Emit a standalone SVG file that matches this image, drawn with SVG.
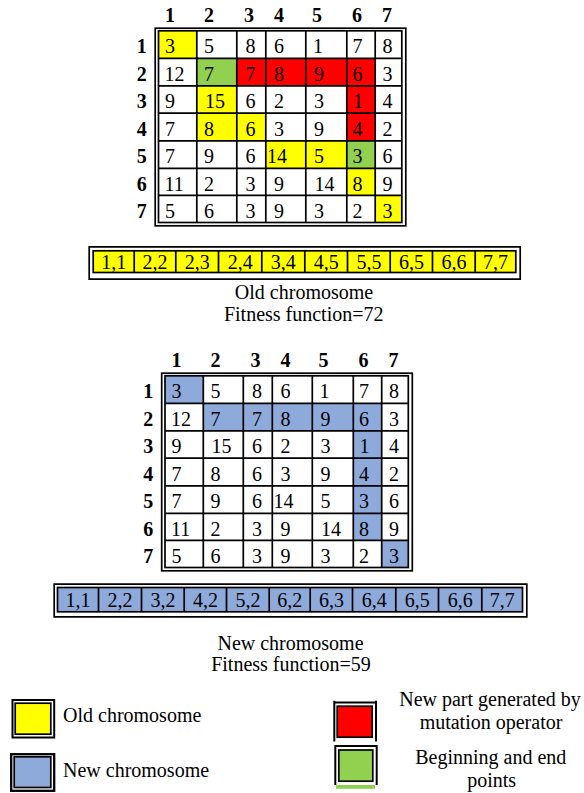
<svg xmlns="http://www.w3.org/2000/svg" width="584" height="793" viewBox="0 0 584 793">
<style>
text{font-family:"Liberation Serif","Times New Roman",serif;font-size:20px;fill:#000}
.b{font-weight:bold}
.m{text-anchor:middle}
.ln{fill:none;stroke:#000;stroke-width:1.7}
.ol{fill:none;stroke:#000;stroke-width:2}
.y{fill:#FFFF00}
.r{fill:#FF0000}
.g{fill:#92D050}
.u{fill:#8EAADB}
</style>
<rect width="584" height="793" fill="#fff"/>

<!-- OLD MATRIX -->
<g id="old-matrix">
<rect class="y" x="158.5" y="30.8" width="38.3" height="27.6"/>
<rect class="y" x="196.8" y="85.8" width="40" height="55"/>
<rect class="y" x="236.8" y="113.2" width="29" height="27.6"/>
<rect class="y" x="265.8" y="140.8" width="81" height="27.6"/>
<rect class="y" x="346.8" y="168.4" width="28.4" height="27"/>
<rect class="y" x="375.2" y="195.4" width="26.6" height="27.1"/>
<rect class="g" x="196.8" y="58.4" width="40" height="27.4"/>
<rect class="g" x="346.8" y="140.8" width="28.4" height="27.6"/>
<rect class="r" x="236.8" y="58.4" width="138.4" height="27.4"/>
<rect class="r" x="346.8" y="85.8" width="28.4" height="55"/>
<rect class="ln" x="155.2" y="28.2" width="250.6" height="197.6"/>
<rect class="ln" x="158.5" y="30.8" width="243.3" height="191.7"/>
<path class="ln" d="M196.8 30.8V222.5M236.8 30.8V222.5M265.8 30.8V222.5M305.8 30.8V222.5M346.8 30.8V222.5M375.2 30.8V222.5M158.5 58.4H401.8M158.5 85.8H401.8M158.5 113.2H401.8M158.5 140.8H401.8M158.5 168.4H401.8M158.5 195.4H401.8"/>
<text class="b" x="165" y="21.7">1</text><text class="b" x="204" y="21.7">2</text><text class="b" x="244" y="21.7">3</text><text class="b" x="274" y="21.7">4</text><text class="b" x="312" y="21.7">5</text><text class="b" x="352" y="21.7">6</text><text class="b" x="382" y="21.7">7</text>
<text class="b m" x="141.7" y="53.3">1</text><text class="b m" x="141.7" y="80.9">2</text><text class="b m" x="141.7" y="108.3">3</text><text class="b m" x="141.7" y="135.7">4</text><text class="b m" x="141.7" y="163.3">5</text><text class="b m" x="141.7" y="190.9">6</text><text class="b m" x="141.7" y="217.9">7</text>
<text x="165" y="53.3">3</text><text x="204" y="53.3">5</text><text x="245.5" y="53.3">8</text><text x="274" y="53.3">6</text><text x="313" y="53.3">1</text><text x="352.5" y="53.3">7</text><text x="382.5" y="53.3">8</text>
<text x="164.5" y="80.9">12</text><text x="204" y="80.9">7</text><text x="245.5" y="80.9">7</text><text x="274" y="80.9">8</text><text x="314" y="80.9">9</text><text x="352.5" y="80.9">6</text><text x="382.5" y="80.9">3</text>
<text x="165" y="108.3">9</text><text x="205" y="108.3">15</text><text x="245.5" y="108.3">6</text><text x="274" y="108.3">2</text><text x="314" y="108.3">3</text><text x="353" y="108.3">1</text><text x="382.5" y="108.3">4</text>
<text x="165" y="135.7">7</text><text x="204" y="135.7">8</text><text x="245.5" y="135.7">6</text><text x="274" y="135.7">3</text><text x="314" y="135.7">9</text><text x="352.5" y="135.7">4</text><text x="382.5" y="135.7">2</text>
<text x="165" y="163.3">7</text><text x="204" y="163.3">9</text><text x="245.5" y="163.3">6</text><text x="267" y="163.3">14</text><text x="314" y="163.3">5</text><text x="352.5" y="163.3">3</text><text x="382.5" y="163.3">6</text>
<text x="164.5" y="190.9">11</text><text x="204" y="190.9">2</text><text x="245.5" y="190.9">3</text><text x="274" y="190.9">9</text><text x="314.5" y="190.9">14</text><text x="352.5" y="190.9">8</text><text x="382.5" y="190.9">9</text>
<text x="165" y="217.9">5</text><text x="204" y="217.9">6</text><text x="245.5" y="217.9">3</text><text x="274" y="217.9">9</text><text x="314" y="217.9">3</text><text x="352.5" y="217.9">2</text><text x="382.5" y="217.9">3</text>
</g>

<!-- OLD CHROMOSOME BAR -->
<g id="old-chromosome">
<rect class="y" x="93.2" y="250.8" width="422.6" height="21.7"/>
<path class="ln" d="M89.2 246.8H520.2V279.2H89.2Z"/>
<rect class="ln" x="93.2" y="250.8" width="422.6" height="21.7"/>
<path class="ln" d="M134.2 250.8V272.5M175.8 250.8V272.5M218.5 250.8V272.5M261.8 250.8V272.5M304.8 250.8V272.5M347.5 250.8V272.5M390.2 250.8V272.5M432.5 250.8V272.5M475.2 250.8V272.5"/>
<text class="m" x="113.7" y="269.3">1,1</text><text class="m" x="155" y="269.3">2,2</text><text class="m" x="197.2" y="269.3">2,3</text><text class="m" x="240.2" y="269.3">2,4</text><text class="m" x="283.3" y="269.3">3,4</text><text class="m" x="326.2" y="269.3">4,5</text><text class="m" x="368.9" y="269.3">5,5</text><text class="m" x="411.4" y="269.3">6,5</text><text class="m" x="453.9" y="269.3">6,6</text><text class="m" x="495.5" y="269.3">7,7</text>
<text class="m" x="304" y="299.3">Old chromosome</text>
<text class="m" x="303.7" y="321">Fitness function=72</text>
</g>

<!-- NEW MATRIX -->
<g id="new-matrix" transform="translate(6.5 345)">
<rect class="u" x="158.5" y="30.8" width="38.3" height="27.6"/>
<rect class="u" x="196.8" y="58.4" width="178.4" height="27.4"/>
<rect class="u" x="346.8" y="85.8" width="28.4" height="109.6"/>
<rect class="u" x="375.2" y="195.4" width="26.6" height="27.1"/>
<rect class="ln" x="155.2" y="28.2" width="250.6" height="197.6"/>
<rect class="ln" x="158.5" y="30.8" width="243.3" height="191.7"/>
<path class="ln" d="M196.8 30.8V222.5M236.8 30.8V222.5M265.8 30.8V222.5M305.8 30.8V222.5M346.8 30.8V222.5M375.2 30.8V222.5M158.5 58.4H401.8M158.5 85.8H401.8M158.5 113.2H401.8M158.5 140.8H401.8M158.5 168.4H401.8M158.5 195.4H401.8"/>
<text class="b" x="165" y="21.7">1</text><text class="b" x="204" y="21.7">2</text><text class="b" x="244" y="21.7">3</text><text class="b" x="274" y="21.7">4</text><text class="b" x="312" y="21.7">5</text><text class="b" x="352" y="21.7">6</text><text class="b" x="382" y="21.7">7</text>
<text class="b m" x="141.7" y="53.3">1</text><text class="b m" x="141.7" y="80.9">2</text><text class="b m" x="141.7" y="108.3">3</text><text class="b m" x="141.7" y="135.7">4</text><text class="b m" x="141.7" y="163.3">5</text><text class="b m" x="141.7" y="190.9">6</text><text class="b m" x="141.7" y="217.9">7</text>
<text x="165" y="53.3">3</text><text x="204" y="53.3">5</text><text x="245.5" y="53.3">8</text><text x="274" y="53.3">6</text><text x="313" y="53.3">1</text><text x="352.5" y="53.3">7</text><text x="382.5" y="53.3">8</text>
<text x="164.5" y="80.9">12</text><text x="204" y="80.9">7</text><text x="245.5" y="80.9">7</text><text x="274" y="80.9">8</text><text x="314" y="80.9">9</text><text x="352.5" y="80.9">6</text><text x="382.5" y="80.9">3</text>
<text x="165" y="108.3">9</text><text x="205" y="108.3">15</text><text x="245.5" y="108.3">6</text><text x="274" y="108.3">2</text><text x="314" y="108.3">3</text><text x="353" y="108.3">1</text><text x="382.5" y="108.3">4</text>
<text x="165" y="135.7">7</text><text x="204" y="135.7">8</text><text x="245.5" y="135.7">6</text><text x="274" y="135.7">3</text><text x="314" y="135.7">9</text><text x="352.5" y="135.7">4</text><text x="382.5" y="135.7">2</text>
<text x="165" y="163.3">7</text><text x="204" y="163.3">9</text><text x="245.5" y="163.3">6</text><text x="267" y="163.3">14</text><text x="314" y="163.3">5</text><text x="352.5" y="163.3">3</text><text x="382.5" y="163.3">6</text>
<text x="164.5" y="190.9">11</text><text x="204" y="190.9">2</text><text x="245.5" y="190.9">3</text><text x="274" y="190.9">9</text><text x="314.5" y="190.9">14</text><text x="352.5" y="190.9">8</text><text x="382.5" y="190.9">9</text>
<text x="165" y="217.9">5</text><text x="204" y="217.9">6</text><text x="245.5" y="217.9">3</text><text x="274" y="217.9">9</text><text x="314" y="217.9">3</text><text x="352.5" y="217.9">2</text><text x="382.5" y="217.9">3</text>
</g>

<!-- NEW CHROMOSOME BAR -->
<g id="new-chromosome">
<rect class="u" x="57.5" y="587.5" width="465" height="24.3"/>
<path class="ln" d="M54.2 584.2H526.8V616.8H54.2Z"/>
<rect class="ln" x="57.5" y="587.5" width="465" height="24.3"/>
<path class="ln" d="M98.5 587.5V611.8M141.5 587.5V611.8M184.2 587.5V611.8M226.5 587.5V611.8M269.2 587.5V611.8M310.2 587.5V611.8M352.5 587.5V611.8M395.8 587.5V611.8M438.5 587.5V611.8M481.8 587.5V611.8"/>
<text class="m" x="78" y="606.7">1,1</text><text class="m" x="120" y="606.7">2,2</text><text class="m" x="162.9" y="606.7">3,2</text><text class="m" x="205.4" y="606.7">4,2</text><text class="m" x="247.9" y="606.7">5,2</text><text class="m" x="289.7" y="606.7">6,2</text><text class="m" x="331.4" y="606.7">6,3</text><text class="m" x="374.2" y="606.7">6,4</text><text class="m" x="417.2" y="606.7">6,5</text><text class="m" x="460.2" y="606.7">6,6</text><text class="m" x="502.2" y="606.7">7,7</text>
<text class="m" x="290.5" y="650">New chromosome</text>
<text class="m" x="291" y="671">Fitness function=59</text>
</g>

<!-- LEGEND -->
<g id="legend-old">
<rect class="ol" x="12.5" y="700" width="41.7" height="37.5"/>
<rect class="ln y" x="15.2" y="703.2" width="35.6" height="31"/>
<text x="63" y="721.7">Old chromosome</text>
</g>
<g id="legend-new">
<rect class="ol" x="11.2" y="754.2" width="43" height="36.6" style="stroke-width:2.3"/>
<rect class="ln u" x="14.2" y="756.8" width="36.6" height="30.7"/>
<text x="63" y="776.7">New chromosome</text>
</g>
<g id="legend-mutation">
<path class="ol" d="M334.3 741.5V700.8M376 741.5V700.8M334.3 702.5H376"/>
<rect class="ln r" x="337.2" y="706.2" width="35" height="31"/>
<text class="m" x="490" y="706.4">New part generated by</text>
<text class="m" x="491" y="728.8">mutation operator</text>
</g>
<g id="legend-endpoints">
<rect x="336" y="785" width="39" height="3.8" fill="#92D050"/>
<path class="ol" d="M335.3 785V745M376.7 785V745M335.3 746H376.7"/>
<rect class="ln g" x="338.8" y="750" width="34" height="31.2"/>
<text class="m" x="490.8" y="764.2">Beginning and end</text>
<text class="m" x="491.7" y="786.6">points</text>
</g>
</svg>
